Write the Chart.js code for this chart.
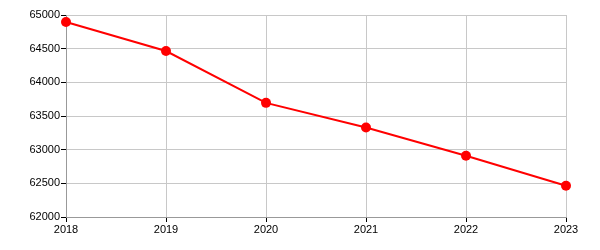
<!DOCTYPE html>
<html lang="en">
<head>
  <meta charset="UTF-8">
  <title>Line chart</title>
  <script src="https://cdn.jsdelivr.net/npm/chart.js"></script>
  <style>
    html, body {
      margin: 0;
      padding: 0;
      background: #fff;
    }
    #wrap {
      width: 600px;
      height: 250px;
    }
  </style>
</head>
<body>
<div id="wrap"><canvas id="grafico"></canvas></div>
<script>
  // datos
  var years = ['2018', '2019', '2020', '2021', '2022', '2023'];
  var values = [64895, 64465, 63695, 63330, 62910, 62465];
  var yTicks = [62000, 62500, 63000, 63500, 64000, 64500, 65000];

  Chart.defaults.font.family = 'Arial, "Liberation Sans", sans-serif';
  Chart.defaults.font.size = 11;
  Chart.defaults.color = '#000';

  var ctx = document.getElementById('grafico').getContext('2d');
  var grafico = new Chart(ctx, {
    type: 'line',
    data: {
      labels: years,
      datasets: [{
        data: values,
        borderColor: '#ff0000',
        backgroundColor: '#ff0000',
        borderWidth: 2,
        pointRadius: 5,
        pointHoverRadius: 5,
        pointBorderWidth: 0,
        tension: 0,
        fill: false
      }]
    },
    options: {
      responsive: true,
      maintainAspectRatio: false,
      animation: false,
      layout: {
        padding: { left: 0, right: 34, top: 15, bottom: 0 }
      },
      plugins: {
        legend: { display: false },
        tooltip: { enabled: false }
      },
      scales: {
        x: {
          offset: false,
          afterFit: function (axis) { axis.height = 33; },
          grid: {
            color: '#c8c8c8',
            tickColor: '#000',
            tickLength: 5
          },
          border: { color: '#999' },
          ticks: { padding: 1, maxRotation: 0 }
        },
        y: {
          min: 62000,
          max: 65000,
          afterFit: function (axis) { axis.width = 66; },
          afterBuildTicks: function (axis) {
            axis.ticks = yTicks.map(function (v) { return { value: v }; });
          },
          grid: {
            color: '#c8c8c8',
            tickColor: '#000',
            tickLength: 5
          },
          border: { color: '#999' },
          ticks: {
            padding: 1,
            callback: function (v) { return String(v); }
          }
        }
      }
    }
  });
</script>
</body>
</html>
